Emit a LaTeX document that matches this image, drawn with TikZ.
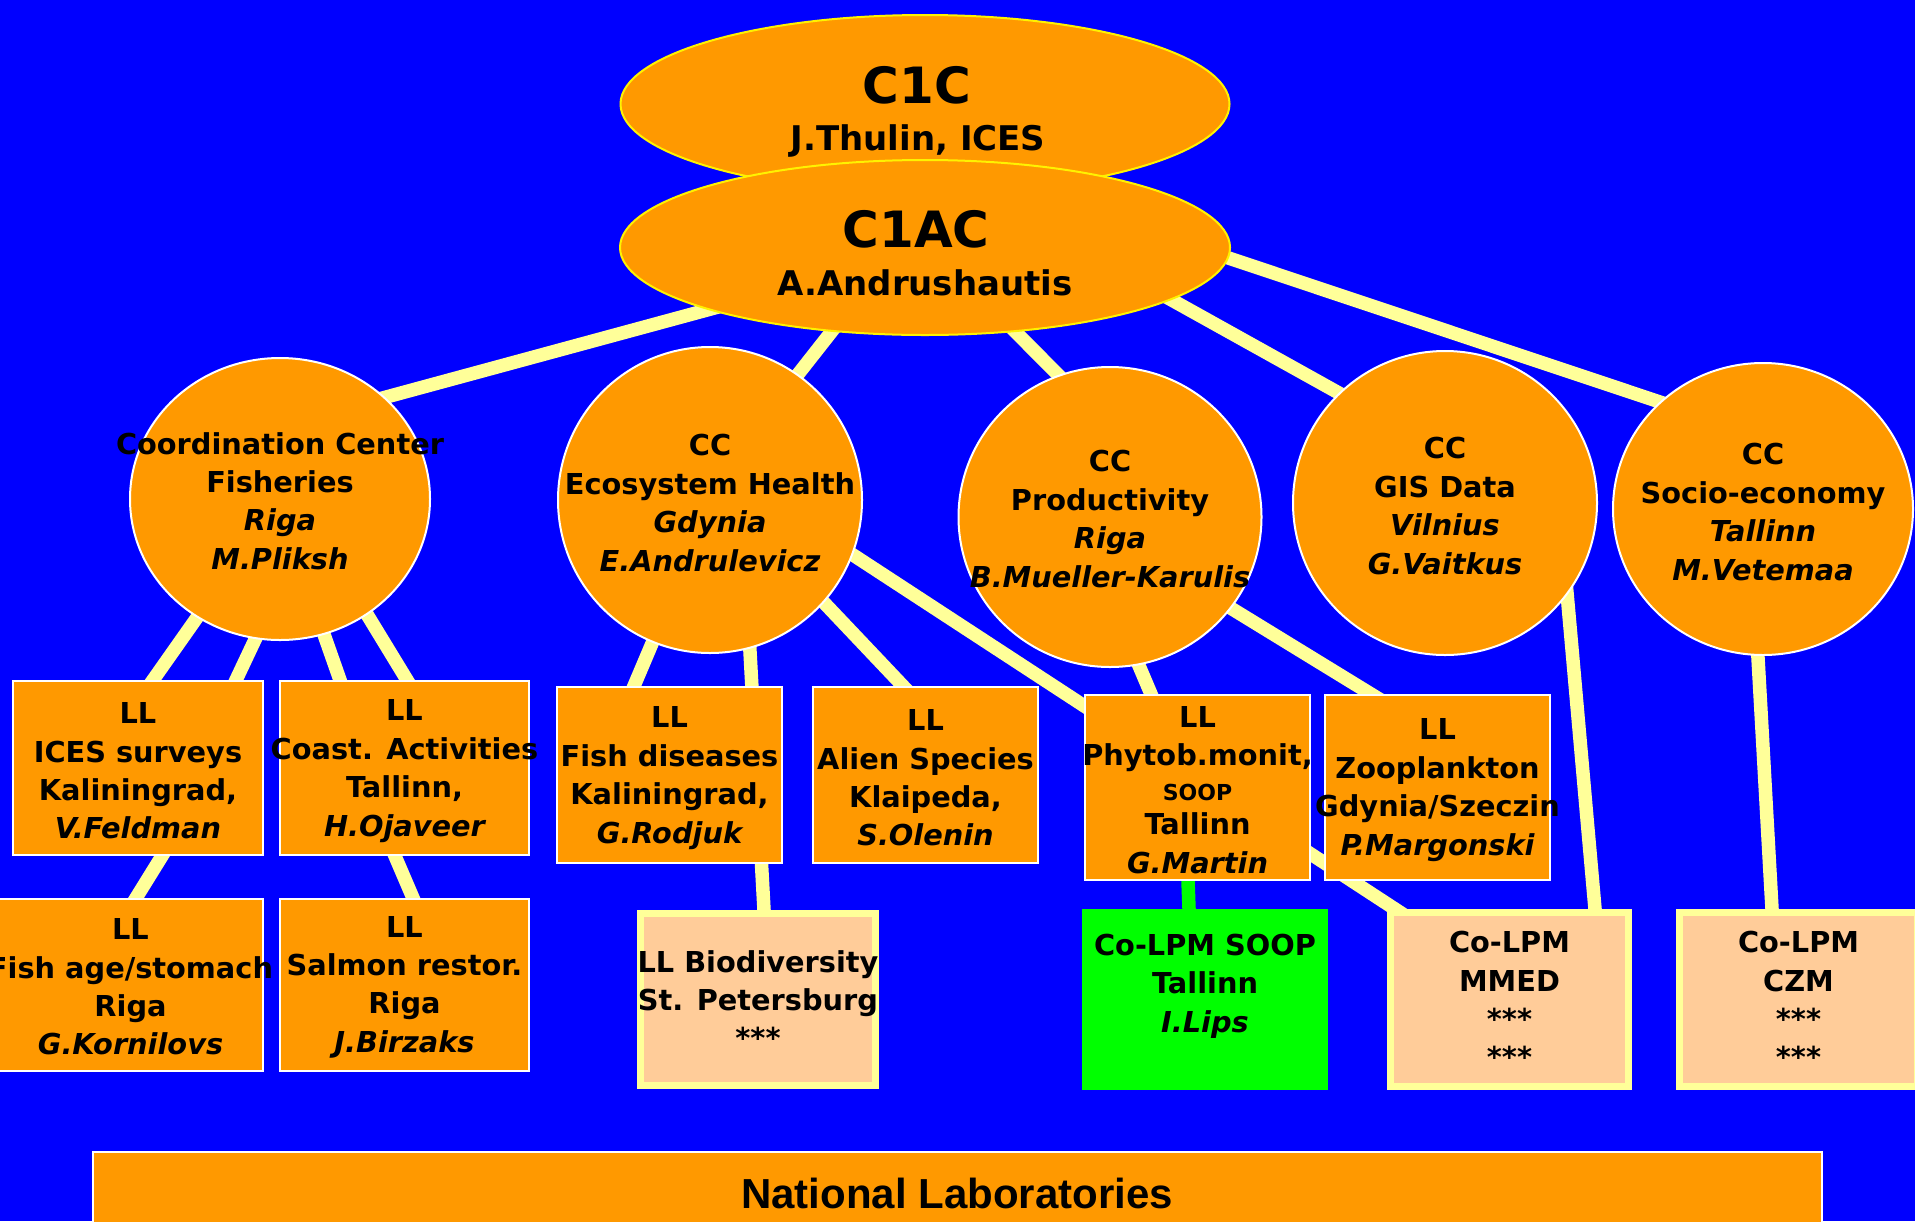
\documentclass[tikz,border=0pt]{standalone}
\usepackage{fontspec}
\setmainfont{DejaVu Sans}
\newfontfamily\arialfont{Liberation Sans}
\usetikzlibrary{shapes.geometric,calc}
\definecolor{bgblue}{RGB}{0,0,255}
\definecolor{orng}{RGB}{255,153,0}
\definecolor{peach}{RGB}{255,204,153}
\definecolor{lyel}{RGB}{255,255,153}
\definecolor{lgreen}{RGB}{0,255,0}
\pgfdeclarelayer{bg}
\pgfdeclarelayer{links}
\pgfsetlayers{bg,links,main}
\begin{document}
\begin{tikzpicture}[x=0.5pt,y=-0.5pt,
  txt/.style={font=\bfseries\fontsize{14.4}{19.2}\selectfont, align=center, inner sep=0pt, text=black},
  ccell/.style={ellipse, draw=white, line width=1pt, fill=orng, inner sep=0pt},
  topell/.style={ellipse, draw=yellow, line width=1pt, fill=orng, inner sep=0pt},
  llbox/.style={rectangle, draw=white, line width=1pt, fill=orng, inner sep=0pt},
  copm/.style={rectangle, draw=lyel, line width=3.5pt, fill=peach, inner sep=0pt},
  conn/.style={draw=lyel, line width=6.75pt, shorten <=-6pt, shorten >=-6pt},
  bigt/.style={anchor=base, inner sep=0pt, font=\bfseries\fontsize{25}{30}\selectfont},
  subt/.style={anchor=base, inner sep=0pt, font=\bfseries\fontsize{17}{20}\selectfont},
]
\useasboundingbox (0,0) rectangle (1915,1221);
\begin{pgfonlayer}{bg}
\fill[bgblue] (0,0) rectangle (1915,1221);
\end{pgfonlayer}

% top ellipses
\node[topell, minimum width=304.5pt, minimum height=89pt] (c1c) at (925,104) {};
\node[bigt] (t1) at (917,103) {C1C};
\node[subt] (t2) at (918,150) {J.Thulin, ICES};
\node[topell, minimum width=305pt, minimum height=87.5pt] (c1ac) at (925,247.5) {};
\node[bigt] (t3) at (916,247) {C1AC};
\node[subt] (t4) at (925,295) {A.Andrushautis};

% coordination centres
\node[ccell, minimum width=150pt, minimum height=141pt] (fish) at (280,499) {};
\node[txt] (fisht) at (280,501) {Coordination Center\\Fisheries\\{\itshape Riga}\\{\itshape M.Pliksh}};
\node[ccell, minimum width=152pt, minimum height=153pt] (eco) at (710,500) {};
\node[txt] (ecot) at (710,503) {CC\\Ecosystem Health\\{\itshape Gdynia}\\{\itshape E.Andrulevicz}};
\node[ccell, minimum width=151.5pt, minimum height=150pt] (prod) at (1110,517) {};
\node[txt] (prodt) at (1110,519) {CC\\Productivity\\{\itshape Riga}\\{\itshape B.Mueller-Karulis}};
\node[ccell, minimum width=152pt, minimum height=152pt] (gis) at (1445,503) {};
\node[txt] (gist) at (1445,506) {CC\\GIS Data\\{\itshape Vilnius}\\{\itshape G.Vaitkus}};
\node[ccell, minimum width=150pt, minimum height=146pt] (socio) at (1763,509) {};
\node[txt] (sociot) at (1763,512) {CC\\Socio-economy\\{\itshape Tallinn}\\{\itshape M.Vetemaa}};

% local laboratories
\node[llbox, minimum width=124.75pt, minimum height=87pt] (ices) at (138,768) {};
\node[txt] (icest) at (138,771) {LL\\ICES surveys\\Kaliningrad,\\{\itshape V.Feldman}};
\node[llbox, minimum width=124.5pt, minimum height=87pt] (coast) at (404.5,768) {};
\node[txt] (coastt) at (404.5,771) {LL\\Coast. Activities\\Tallinn,\\{\itshape H.Ojaveer}};
\node[llbox, minimum width=132.5pt, minimum height=86pt] (fage) at (130.5,985) {};
\node[txt] (faget) at (130.5,987) {LL\\Fish age/stomach\\Riga\\{\itshape G.Kornilovs}};
\node[llbox, minimum width=124.5pt, minimum height=86pt] (salmon) at (404.5,985) {};
\node[txt] (salmont) at (404.5,987) {LL\\Salmon restor.\\Riga\\{\itshape J.Birzaks}};
\node[llbox, minimum width=112.5pt, minimum height=88pt] (fdis) at (669.5,775) {};
\node[txt] (fdist) at (669.5,778) {LL\\Fish diseases\\Kaliningrad,\\{\itshape G.Rodjuk}};
\node[llbox, minimum width=112.5pt, minimum height=88pt] (alien) at (925.5,775) {};
\node[txt] (alient) at (925.5,778) {LL\\Alien Species\\Klaipeda,\\{\itshape S.Olenin}};
\node[copm, minimum width=117.5pt, minimum height=86pt] (biod) at (758,999.5) {};
\node[txt] (biodt) at (biod) {LL Biodiversity\\St. Petersburg\\***};
\node[llbox, minimum width=112.5pt, minimum height=92.5pt] (phyt) at (1197.5,787.5) {};
\node[txt] (phytt) at (1197.5,790) {LL\\Phytob.monit,\\[-2pt]{\fontsize{11}{13}\selectfont SOOP}\\[-2pt]Tallinn\\{\itshape G.Martin}};
\node[llbox, minimum width=112.5pt, minimum height=92.5pt] (zoo) at (1437.5,787.5) {};
\node[txt] (zoot) at (1437.5,790) {LL\\Zooplankton\\Gdynia/Szeczin\\{\itshape P.Margonski}};
\node[rectangle, fill=lgreen, inner sep=0pt, minimum width=123pt, minimum height=90.5pt] (soop) at (1205,999.5) {};
\node[txt] (soopt) at (1205,986) {Co-LPM SOOP\\Tallinn\\{\itshape I.Lips}};
\node[copm, minimum width=119pt, minimum height=87pt] (mmed) at (1509.5,999.5) {};
\node[txt] (mmedt) at (mmed) {Co-LPM\\MMED\\***\\***};
\node[copm, minimum width=119pt, minimum height=87pt] (czm) at (1798.5,999.5) {};
\node[txt] (czmt) at (czm) {Co-LPM\\CZM\\***\\***};

% national laboratories
\node[llbox, minimum width=864.5pt, minimum height=44pt] (natlab) at (957.5,1196) {};
\node[inner sep=0pt, font=\arialfont\bfseries\fontsize{21}{25}\selectfont] (natlabt) at (957,1193) {National Laboratories};

% connectors
\begin{pgfonlayer}{links}
\draw[conn] (c1ac.196.8) -- (fish.44);
\draw[conn] (c1ac.222.7) -- (eco.55.3);
\draw[conn] (c1ac.317.9) -- (prod.110.9);
\draw[conn] (c1ac.348) -- (gis.134.7);
\draw[conn] (c1ac.358) -- (socio.134.5);
\draw[conn] (fish.235) -- ($(ices.north)+(15,0)$);
\draw[conn] (fish.260.6) -- ($(ices.north)+(98,0)$);
\draw[conn] (fish.288.6) -- ($(coast.north)+(-64.5,0)$);
\draw[conn] (fish.307) -- ($(coast.north)+(2.5,0)$);
\draw[conn] ($(ices.south)+(24,0)$) -- ($(fage.north)+(5.5,0)$);
\draw[conn] ($(coast.south)+(-9.5,0)$) -- ($(salmon.north)+(8.5,0)$);
\draw[conn] (eco.248) -- ($(fdis.north)+(-35.5,0)$);
\draw[conn] (eco.285) -- ($(biod.north)+(6,0)$);
\draw[conn] (eco.318.7) -- ($(alien.north)+(-22.5,0)$);
\draw[conn] (eco.339.5) -- ($(mmed.north west)+(8,0)$);
\draw[conn] (prod.281) -- ($(phyt.north)+(-46.5,0)$);
\draw[conn] (prod.323.8) -- ($(zoo.north)+(-66.5,0)$);
\draw[conn, draw=lgreen] ($(phyt.south)+(-9.5,0)$) -- ($(soop.north)+(-16,0)$);
\draw[conn] (gis.323.3) -- ($(mmed.north)+(85.5,0)$);
\draw[conn] (socio.268) -- ($(czm.north)+(-26.5,0)$);
\end{pgfonlayer}
\end{tikzpicture}
\end{document}
